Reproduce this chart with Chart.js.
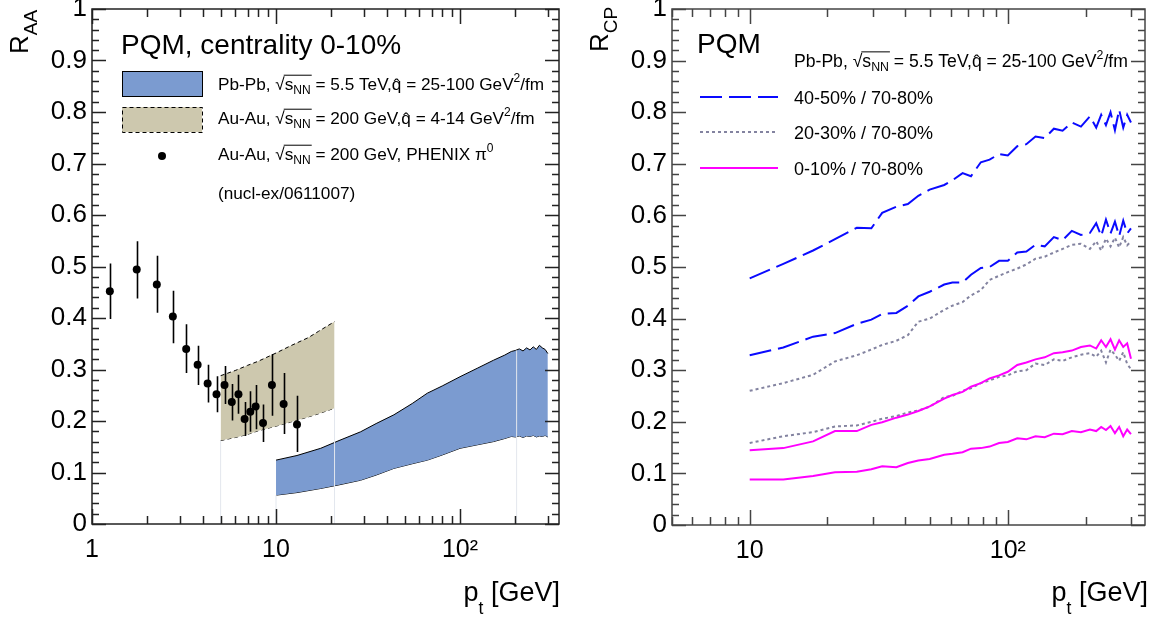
<!DOCTYPE html>
<html lang="en">
<head>
<meta charset="UTF-8">
<title>PQM R_AA and R_CP</title>
<script src="https://cdn.jsdelivr.net/npm/chart.js"></script>
<style>
  body { margin: 0; background: #fff; }
  #wrap { position: relative; width: 1155px; height: 620px; }
  canvas { position: absolute; top: 0; }
</style>
</head>
<body>
<div id="wrap">
  <canvas id="raaChart" width="580" height="620" style="left:0"></canvas>
  <canvas id="rcpChart" width="575" height="620" style="left:580px"></canvas>
</div>
<script>
// ---------- left panel data (R_AA, 0-10%) ----------
const phenixPt   = [1.25, 1.75, 2.25, 2.75, 3.25, 3.75, 4.25, 4.75, 5.25, 5.75, 6.25, 6.75, 7.25, 7.75, 8.5, 9.5, 11, 13];
const phenixRaa  = [0.452, 0.494, 0.465, 0.403, 0.340, 0.309, 0.273, 0.252, 0.270, 0.237, 0.252, 0.204, 0.218, 0.228, 0.196, 0.270, 0.233, 0.193];
const phenixHigh = [0.506, 0.549, 0.521, 0.453, 0.388, 0.346, 0.309, 0.287, 0.307, 0.272, 0.290, 0.237, 0.258, 0.270, 0.232, 0.330, 0.293, 0.249];
const phenixLow  = [0.398, 0.438, 0.410, 0.351, 0.293, 0.270, 0.236, 0.217, 0.233, 0.201, 0.214, 0.171, 0.179, 0.184, 0.159, 0.210, 0.175, 0.140];

const auPt   = [5, 6, 7, 8, 10, 12, 15, 17, 20.8];
const auHigh = [0.288, 0.298, 0.308, 0.316, 0.332, 0.346, 0.362, 0.374, 0.393];
const auLow  = [0.162, 0.168, 0.174, 0.181, 0.190, 0.198, 0.208, 0.214, 0.225];

const pbPt   = [10, 13, 17.5, 22, 28.8, 35, 43.7, 55, 66.4, 80, 100, 125, 152, 175, 190, 200, 210, 220, 230, 240, 250, 260, 270, 280, 290, 300];
const pbHigh = [0.124, 0.133, 0.147, 0.162, 0.179, 0.195, 0.212, 0.234, 0.254, 0.268, 0.286, 0.303, 0.318, 0.328, 0.335,
                0.337, 0.340, 0.336, 0.342, 0.338, 0.344, 0.339, 0.347, 0.342, 0.339, 0.331];
const pbLow  = [0.056, 0.061, 0.069, 0.076, 0.085, 0.095, 0.108, 0.117, 0.124, 0.134, 0.147, 0.154, 0.160, 0.166, 0.170,
                0.169, 0.171, 0.168, 0.171, 0.170, 0.172, 0.169, 0.171, 0.170, 0.172, 0.169];

// faint vertical edges left by the band drawing
const edgeX   = [5, 20.8, 10, 203];
const edgeTop = [0.162, 0.225, 0.056, 0.337];

// ---------- right panel data (R_CP) ----------
const rcpPt = [10, 13.5, 17.6, 21.4, 26, 29.6, 32.6, 37, 41, 45, 49.8, 56.7, 61, 66.8, 72, 78.6, 85, 92.5, 100, 108.8,
               118, 128, 139, 150.8, 163, 177, 192, 208, 220, 230, 240, 250, 260, 270, 280, 290, 300];
const c4050High = [0.478, 0.506, 0.532, 0.554, 0.576, 0.575, 0.605, 0.617, 0.622, 0.638, 0.650, 0.659, 0.668, 0.682, 0.676, 0.703, 0.708, 0.719, 0.716, 0.734,
                   0.738, 0.753, 0.750, 0.768, 0.764, 0.780, 0.772, 0.792, 0.770, 0.795, 0.775, 0.800, 0.765, 0.805, 0.770, 0.795, 0.780];
const c4050Low  = [0.329, 0.344, 0.365, 0.372, 0.390, 0.398, 0.409, 0.411, 0.425, 0.443, 0.452, 0.466, 0.470, 0.470, 0.485, 0.498, 0.500, 0.512, 0.512, 0.528,
                   0.530, 0.543, 0.540, 0.558, 0.552, 0.570, 0.562, 0.566, 0.585, 0.560, 0.592, 0.565, 0.588, 0.560, 0.590, 0.565, 0.575];
const c2030High = [0.260, 0.275, 0.291, 0.317, 0.329, 0.340, 0.349, 0.357, 0.368, 0.394, 0.400, 0.417, 0.425, 0.432, 0.445, 0.455, 0.475, 0.483, 0.490, 0.497,
                   0.505, 0.516, 0.520, 0.528, 0.535, 0.543, 0.545, 0.535, 0.550, 0.532, 0.555, 0.540, 0.557, 0.538, 0.558, 0.542, 0.550];
const c2030Low  = [0.159, 0.172, 0.180, 0.191, 0.193, 0.200, 0.206, 0.211, 0.218, 0.222, 0.229, 0.248, 0.250, 0.260, 0.265, 0.275, 0.280, 0.287, 0.290, 0.298,
                   0.300, 0.313, 0.310, 0.321, 0.318, 0.325, 0.330, 0.333, 0.326, 0.338, 0.315, 0.340, 0.330, 0.318, 0.335, 0.312, 0.302];
const c0010High = [0.145, 0.149, 0.162, 0.182, 0.182, 0.194, 0.199, 0.208, 0.214, 0.221, 0.230, 0.245, 0.252, 0.258, 0.268, 0.275, 0.284, 0.290, 0.297, 0.310,
                   0.315, 0.321, 0.325, 0.333, 0.335, 0.338, 0.345, 0.348, 0.342, 0.358, 0.345, 0.360, 0.340, 0.358, 0.345, 0.352, 0.322];
const c0010Low  = [0.088, 0.088, 0.095, 0.102, 0.103, 0.108, 0.114, 0.112, 0.120, 0.125, 0.128, 0.136, 0.138, 0.141, 0.148, 0.149, 0.152, 0.159, 0.161, 0.168,
                   0.166, 0.172, 0.170, 0.177, 0.176, 0.182, 0.180, 0.185, 0.182, 0.190, 0.184, 0.192, 0.178, 0.190, 0.172, 0.185, 0.176];

// ---------- axes ----------
const yTicks = [0, 0.1, 0.2, 0.3, 0.4, 0.5, 0.6, 0.7, 0.8, 0.9, 1];
const yTickLabels = ['0', '0.1', '0.2', '0.3', '0.4', '0.5', '0.6', '0.7', '0.8', '0.9', '1'];
const xTicksL = [1, 10, 100];
const xTickLabelsL = ['1', '10', '10\u00B2'];
const xTicksR = [10, 100];
const xTickLabelsR = ['10', '10\u00B2'];

const FONT = "'Liberation Sans', Arial, Helvetica, sans-serif";
const pts = (xs, ys) => xs.map((x, i) => ({ x: x, y: ys[i] }));

// text with sub/superscripts, sqrt overline and hat; y is baseline
function drawRich(ctx, x, y, parts, size) {
    let cx = x, overStart = null, overEnd = null;
    ctx.textAlign = 'left';
    ctx.textBaseline = 'alphabetic';
    parts.forEach(p => {
        const s = (p.sub || p.sup) ? size * (p.scale || 0.7) : size;
        ctx.font = s + 'px ' + FONT;
        const dy = p.sub ? (p.dy || size * 0.25) : p.sup ? -size * 0.45 : 0;
        ctx.fillText(p.t, cx, y + dy);
        const w = ctx.measureText(p.t).width;
        if (p.hat) {
            ctx.textAlign = 'center';
            ctx.fillText('\u02C6', cx + w / 2, y + 1);
            ctx.textAlign = 'left';
        }
        if (p.over) {
            if (overStart === null) overStart = cx;
            overEnd = cx + w;
        }
        cx += w;
    });
    if (overStart !== null) {
        ctx.beginPath();
        ctx.lineWidth = 1;
        ctx.moveTo(overStart - 1, y - size * 0.86);
        ctx.lineTo(overEnd + 1, y - size * 0.86);
        ctx.stroke();
    }
    return cx;
}

function richWidth(ctx, parts, size) {
    let w = 0;
    parts.forEach(p => {
        const s = (p.sub || p.sup) ? size * (p.scale || 0.7) : size;
        ctx.font = s + 'px ' + FONT;
        w += ctx.measureText(p.t).width;
    });
    return w;
}

function drawYTitle(ctx, main, sub, baseX, startY) {
    ctx.save();
    ctx.translate(baseX, startY);
    ctx.rotate(-Math.PI / 2);
    ctx.fillStyle = '#000';
    ctx.textAlign = 'left';
    ctx.textBaseline = 'alphabetic';
    ctx.font = '26px ' + FONT;
    ctx.fillText(main, 0, 0);
    const w = ctx.measureText(main).width;
    ctx.font = '19px ' + FONT;
    ctx.fillText(sub, w, 9);
    ctx.restore();
}

function drawXTitle(ctx, rightX, baseY) {
    const parts = [{ t: 'p' }, { t: 't', sub: true, scale: 0.65, dy: 13 }, { t: ' [GeV]' }];
    const w = richWidth(ctx, parts, 27);
    ctx.fillStyle = '#000';
    drawRich(ctx, rightX - w, baseY, parts, 27);
}

const sqrtS = [{ t: '\u221A' }, { t: 's', over: true }, { t: 'NN', sub: true, over: true }];

// ROOT-like frame with inward ticks on all four sides
function framePlugin(color) {
    return {
        id: 'rootFrame',
        afterDatasetsDraw(chart) {
            const { ctx, chartArea: a } = chart;
            const x = chart.scales.x, y = chart.scales.y;
            ctx.save();
            ctx.strokeStyle = color;
            ctx.lineWidth = 1.5;
            ctx.strokeRect(a.left, a.top, a.right - a.left, a.bottom - a.top);
            ctx.beginPath();
            for (let i = 0; i <= 50; i++) {
                const py = Math.round(y.getPixelForValue(i / 50)) + 0.5;
                const len = i % 5 === 0 ? 14 : 7;
                ctx.moveTo(a.left, py); ctx.lineTo(a.left + len, py);
                ctx.moveTo(a.right, py); ctx.lineTo(a.right - len, py);
            }
            for (let d = 1; d <= 1000; d *= 10) {
                for (let k = 1; k < 10; k++) {
                    const v = k * d;
                    if (v < x.min || v > x.max) continue;
                    const px = Math.round(x.getPixelForValue(v)) + 0.5;
                    const len = k === 1 ? 15 : 8;
                    ctx.moveTo(px, a.bottom); ctx.lineTo(px, a.bottom - len);
                    ctx.moveTo(px, a.top); ctx.lineTo(px, a.top + len);
                }
            }
            ctx.stroke();
            ctx.restore();
        }
    };
}

function axisOptions(xMin, xMax, xTicks, xLabels, bottomPx, yWidth) {
    return {
        x: {
            type: 'logarithmic', min: xMin, max: xMax,
            afterBuildTicks: s => { s.ticks = xTicks.map(v => ({ value: v })); },
            afterFit: s => { s.height = 620 - bottomPx; s.paddingLeft = 0; s.paddingRight = 0; },
            ticks: { callback: (v, i) => xLabels[i], font: { family: FONT, size: 25 }, color: '#000',
                     padding: 11, maxRotation: 0, autoSkip: false },
            grid: { display: false, drawTicks: false }, border: { display: false }
        },
        y: {
            min: 0, max: 1,
            afterBuildTicks: s => { s.ticks = yTicks.map(v => ({ value: v })); },
            afterFit: s => { s.width = yWidth; s.paddingTop = 0; s.paddingBottom = 0; },
            ticks: { callback: (v, i) => yTickLabels[i], font: { family: FONT, size: 26 }, color: '#000', padding: 5 },
            grid: { display: false, drawTicks: false }, border: { display: false }
        }
    };
}

// ---------- left chart ----------
const raaText = {
    id: 'raaText',
    afterDraw(chart) {
        const ctx = chart.ctx;
        const x = chart.scales.x, y = chart.scales.y;
        ctx.save();
        // PHENIX error bars
        ctx.strokeStyle = '#000';
        ctx.lineWidth = 1.6;
        ctx.beginPath();
        phenixPt.forEach((p, i) => {
            const px = Math.round(x.getPixelForValue(p)) + 0.5;
            ctx.moveTo(px, y.getPixelForValue(phenixLow[i]));
            ctx.lineTo(px, y.getPixelForValue(phenixHigh[i]));
        });
        ctx.stroke();

        ctx.fillStyle = '#000';
        ctx.strokeStyle = '#000';
        ctx.font = '28px ' + FONT;
        ctx.textBaseline = 'alphabetic';
        ctx.fillText('PQM, centrality 0-10%', 121, 54);

        // legend boxes
        ctx.fillStyle = '#7b9bd0';
        ctx.fillRect(122, 71, 80, 25);
        ctx.lineWidth = 1;
        ctx.strokeRect(122.5, 71.5, 80, 25);
        ctx.fillStyle = '#cdc8ae';
        ctx.fillRect(122, 107, 80, 25);
        ctx.setLineDash([4, 3]);
        ctx.strokeRect(122.5, 107.5, 80, 25);
        ctx.setLineDash([]);
        ctx.fillStyle = '#000';
        ctx.beginPath();
        ctx.arc(162, 156, 4, 0, Math.PI * 2);
        ctx.fill();

        const fs = 17.2;
        drawRich(ctx, 218, 90, [{ t: 'Pb-Pb, ' }, ...sqrtS, { t: ' = 5.5 TeV,' }, { t: 'q', hat: true },
            { t: ' = 25-100 GeV' }, { t: '2', sup: true }, { t: '/fm' }], fs);
        drawRich(ctx, 218, 124, [{ t: 'Au-Au, ' }, ...sqrtS, { t: ' = 200 GeV,' }, { t: 'q', hat: true },
            { t: ' = 4-14 GeV' }, { t: '2', sup: true }, { t: '/fm' }], fs);
        drawRich(ctx, 218, 160, [{ t: 'Au-Au, ' }, ...sqrtS, { t: ' = 200 GeV, PHENIX \u03C0' }, { t: '0', sup: true }], fs);
        drawRich(ctx, 218, 199, [{ t: '(nucl-ex/0611007)' }], fs);

        drawYTitle(ctx, 'R', 'AA', 28, 54);
        drawXTitle(ctx, 560, 601);
        ctx.restore();
    }
};

new Chart(document.getElementById('raaChart'), {
    type: 'line',
    data: {
        datasets: [
            { label: 'PHENIX pi0', data: pts(phenixPt, phenixRaa), showLine: false,
              pointRadius: 4, pointBackgroundColor: '#000', pointBorderWidth: 0 },
            ...edgeX.map((e, i) => ({ label: 'edge', data: [{ x: e, y: 0 }, { x: e, y: edgeTop[i] }],
              borderColor: '#e3e7ee', borderWidth: 1, pointRadius: 0 })),
            { label: 'Au-Au high', data: pts(auPt, auHigh), borderColor: '#000', borderWidth: 1, borderDash: [4, 3],
              backgroundColor: '#cdc8ae', fill: '+1', pointRadius: 0 },
            { label: 'Au-Au low', data: pts(auPt, auLow), borderColor: '#000', borderWidth: 1, borderDash: [4, 3],
              fill: false, pointRadius: 0 },
            { label: 'Pb-Pb high', data: pts(pbPt, pbHigh), borderColor: '#000', borderWidth: 1,
              backgroundColor: '#7b9bd0', fill: '+1', pointRadius: 0 },
            { label: 'Pb-Pb low', data: pts(pbPt, pbLow), borderColor: '#000', borderWidth: 1,
              fill: false, pointRadius: 0 }
        ]
    },
    options: {
        responsive: false, animation: false, devicePixelRatio: 1,
        layout: { padding: { top: 9, right: 21, left: 0, bottom: 0 } },
        plugins: { legend: { display: false }, tooltip: { enabled: false } },
        scales: axisOptions(1, 345, xTicksL, xTickLabelsL, 524, 92)
    },
    plugins: [framePlugin('#222'), raaText]
});

// ---------- right chart ----------
const rcpStyles = [
    { color: '#0a0aff', dash: [22, 7] },
    { color: '#8383a0', dash: [3, 3] },
    { color: '#ff00ff', dash: [] }
];
const rcpNames = ['40-50% / 70-80%', '20-30% / 70-80%', '0-10% / 70-80%'];

const rcpText = {
    id: 'rcpText',
    afterDraw(chart) {
        const ctx = chart.ctx;
        ctx.save();
        ctx.fillStyle = '#000';
        ctx.strokeStyle = '#000';
        ctx.font = '28px ' + FONT;
        ctx.textBaseline = 'alphabetic';
        ctx.fillText('PQM', 117, 53);
        drawRich(ctx, 214, 67, [{ t: 'Pb-Pb, ' }, ...sqrtS, { t: ' = 5.5 TeV,' }, { t: 'q', hat: true },
            { t: ' = 25-100 GeV' }, { t: '2', sup: true }, { t: '/fm' }], 17.6);
        const ys = [97, 132, 168];
        rcpNames.forEach((n, i) => {
            ctx.strokeStyle = rcpStyles[i].color;
            ctx.lineWidth = 2;
            ctx.setLineDash(rcpStyles[i].dash);
            ctx.beginPath();
            ctx.moveTo(120, ys[i]);
            ctx.lineTo(198, ys[i]);
            ctx.stroke();
            ctx.setLineDash([]);
            ctx.fillStyle = '#000';
            ctx.font = '18px ' + FONT;
            ctx.fillText(n, 214, ys[i] + 6.5);
        });
        drawYTitle(ctx, 'R', 'CP', 28, 52);
        drawXTitle(ctx, 568, 601);
        ctx.restore();
    }
};

const rcpLine = (ys, s) => ({ data: pts(rcpPt, ys), borderColor: s.color, borderWidth: 2,
    borderDash: s.dash, pointRadius: 0, fill: false, tension: 0 });

new Chart(document.getElementById('rcpChart'), {
    type: 'line',
    data: {
        datasets: [
            rcpLine(c4050High, rcpStyles[0]),
            rcpLine(c4050Low, rcpStyles[0]),
            rcpLine(c0010High, rcpStyles[2]),
            rcpLine(c0010Low, rcpStyles[2]),
            rcpLine(c2030High, rcpStyles[1]),
            rcpLine(c2030Low, rcpStyles[1])
        ]
    },
    options: {
        responsive: false, animation: false, devicePixelRatio: 1,
        layout: { padding: { top: 9, right: 10, left: 0, bottom: 0 } },
        plugins: { legend: { display: false }, tooltip: { enabled: false } },
        scales: axisOptions(5, 340, xTicksR, xTickLabelsR, 525, 92)
    },
    plugins: [framePlugin('#444'), rcpText]
});
</script>
</body>
</html>
